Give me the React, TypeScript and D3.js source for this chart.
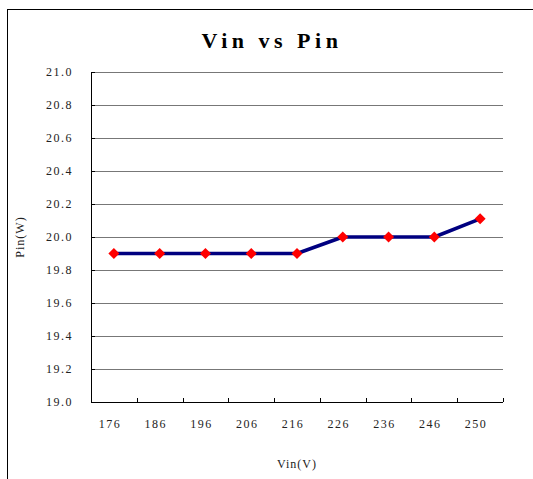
import React from "react";
import * as d3 from "d3";

const categories = ["176", "186", "196", "206", "216", "226", "236", "246", "250"];
const pinValues = [19.9, 19.9, 19.9, 19.9, 19.9, 20.0, 20.0, 20.0, 20.11];
const yTicks = [19.0, 19.2, 19.4, 19.6, 19.8, 20.0, 20.2, 20.4, 20.6, 20.8, 21.0];
const title = "Vin vs Pin";
const xTitle = "Vin(V)";
const yTitle = "Pin(W)";

const W = 533;
const H = 479;
const plot = { left: 91, right: 503, top: 72, bottom: 402 };
const font = "'Liberation Serif', 'DejaVu Serif', serif";

export default function App() {
  const x = d3
    .scaleBand<string>()
    .domain(categories)
    .range([plot.left, plot.right])
    .padding(0);
  const y = d3.scaleLinear().domain([19, 21]).range([plot.bottom, plot.top]);
  const line = d3
    .line<number>()
    .x((_, i) => (x(categories[i]) as number) + x.bandwidth() / 2)
    .y((d) => y(d));
  const boundaries = categories.map((c) => x(c) as number).concat([plot.right]);

  return (
    <svg
      width={W}
      height={H}
      style={{ position: "absolute", left: 0, top: 0, background: "#fff" }}
    >
      <rect x={0} y={0} width={W} height={H} fill="#fff" />
      <rect x={7.5} y={9.5} width={W + 10} height={H + 10} fill="none" stroke="#000" strokeWidth={1} />
      <text
        x={272}
        y={48}
        textAnchor="middle"
        fontFamily={font}
        fontWeight="bold"
        fontSize={22}
        letterSpacing={4.5}
        fill="#000"
      >
        {title}
      </text>
      {yTicks.map((t) => (
        <g key={t}>
          <line
            x1={plot.left}
            x2={plot.right}
            y1={Math.round(y(t)) + 0.5}
            y2={Math.round(y(t)) + 0.5}
            stroke={t === 19 ? "#000" : "#777"}
            strokeWidth={1}
          />
          <line
            x1={plot.left}
            x2={plot.left + 4}
            y1={Math.round(y(t)) + 0.5}
            y2={Math.round(y(t)) + 0.5}
            stroke="#000"
          />
          <text
            x={73}
            y={y(t) + 4}
            textAnchor="end"
            fontFamily={font}
            fontSize={12}
            letterSpacing={1.5}
            fill="#222"
          >
            {t.toFixed(1)}
          </text>
        </g>
      ))}
      <line x1={plot.left + 0.5} x2={plot.left + 0.5} y1={plot.top} y2={plot.bottom} stroke="#000" />
      <line x1={plot.left} x2={plot.right} y1={plot.bottom + 0.5} y2={plot.bottom + 0.5} stroke="#000" />
      {boundaries.map((b, i) => (
        <line
          key={i}
          x1={Math.round(b) + 0.5}
          x2={Math.round(b) + 0.5}
          y1={plot.bottom - 4}
          y2={plot.bottom}
          stroke="#000"
        />
      ))}
      {categories.map((c) => (
        <text
          key={c}
          x={(x(c) as number) + x.bandwidth() / 2 - 4}
          y={428}
          textAnchor="middle"
          fontFamily={font}
          fontSize={12}
          letterSpacing={1.5}
          fill="#222"
        >
          {c}
        </text>
      ))}
      <text
        x={297}
        y={468}
        textAnchor="middle"
        fontFamily={font}
        fontSize={12}
        letterSpacing={1}
        fill="#222"
      >
        {xTitle}
      </text>
      <text
        transform={`translate(24, 237) rotate(-90)`}
        textAnchor="middle"
        fontFamily={font}
        fontSize={12}
        letterSpacing={1}
        fill="#222"
      >
        {yTitle}
      </text>
      <path d={line(pinValues) || ""} fill="none" stroke="#000080" strokeWidth={3.5} strokeLinejoin="round" />
      {pinValues.map((v, i) => {
        const cx = (x(categories[i]) as number) + x.bandwidth() / 2;
        const cy = y(v);
        const s = 5.5;
        return (
          <path
            key={i}
            d={`M${cx},${cy - s}L${cx + s},${cy}L${cx},${cy + s}L${cx - s},${cy}Z`}
            fill="#ff0000"
          />
        );
      })}
    </svg>
  );
}
